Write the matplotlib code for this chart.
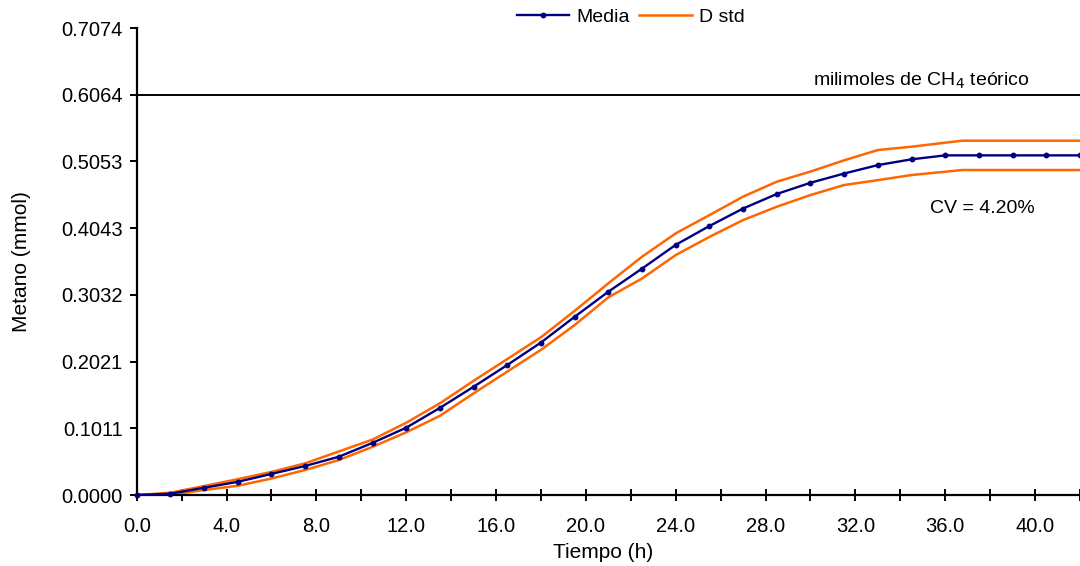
import matplotlib
matplotlib.use("Agg")
import matplotlib.pyplot as plt
from matplotlib.ticker import FixedLocator, MultipleLocator

plt.rcParams['font.family'] = ['Liberation Sans', 'DejaVu Sans']

# Data
tiempo = [0, 1.5, 3, 4.5, 6, 7.5, 9, 10.5, 12, 13.5, 15, 16.5, 18, 19.5, 21,
          22.5, 24, 25.5, 27, 28.5, 30, 31.5, 33, 34.5, 36, 37.5, 39, 40.5, 42]
media = [0.000, 0.002, 0.011, 0.020, 0.032, 0.044, 0.058, 0.079, 0.102, 0.132,
         0.164, 0.197, 0.231, 0.270, 0.308, 0.343, 0.379, 0.4075, 0.434, 0.456,
         0.473, 0.487, 0.4998, 0.5085, 0.5145, 0.5145, 0.5145, 0.5145, 0.5145]
tiempo_std = [0, 1.5, 3, 4.5, 6, 7.5, 9, 10.5, 12, 13.5, 15, 16.5, 18, 19.5, 21,
              22.5, 24, 25.5, 27, 28.5, 30, 31.5, 33, 34.5, 36, 36.75, 37.5, 39, 40.5, 42]
d_std_sup = [0.000, 0.0035, 0.0136, 0.024, 0.035, 0.048, 0.066, 0.084, 0.1095, 0.139,
             0.173, 0.206, 0.239, 0.279, 0.3207, 0.361, 0.3964, 0.424, 0.452, 0.4746,
             0.490, 0.507, 0.5226, 0.5276, 0.5337, 0.5367, 0.5367, 0.5367, 0.5367, 0.5367]
d_std_inf = [0.000, 0.000, 0.0076, 0.014, 0.025, 0.038, 0.053, 0.073, 0.095, 0.120,
             0.154, 0.187, 0.220, 0.2575, 0.2995, 0.328, 0.3635, 0.391, 0.4165, 0.4367,
             0.4544, 0.4696, 0.477, 0.4847, 0.4897, 0.4923, 0.4923, 0.4923, 0.4923, 0.4923]
teorico = 0.6064
y_ticks = [0.0000, 0.1011, 0.2021, 0.3032, 0.4043, 0.5053, 0.6064, 0.7074]
y_labels = ["0.0000", "0.1011", "0.2021", "0.3032", "0.4043", "0.5053", "0.6064", "0.7074"]
x_ticks = [0, 4, 8, 12, 16, 20, 24, 28, 32, 36, 40]
x_labels = ["0.0", "4.0", "8.0", "12.0", "16.0", "20.0", "24.0", "28.0", "32.0", "36.0", "40.0"]

fig = plt.figure(figsize=(10.8, 5.66), dpi=100)
ax = fig.add_axes([0.1266, 0.1254, 0.8734, 0.8251])

ax.axhline(teorico, color='black', lw=1.4, zorder=1)
l1, = ax.plot(tiempo, media, color='#000080', lw=1.7, marker='o', ms=3.2,
              label='Media', zorder=3, clip_on=False)
l2, = ax.plot(tiempo_std, d_std_sup, color='#FF6600', lw=1.8, label='D std', zorder=2)
ax.plot(tiempo_std, d_std_inf, color='#FF6600', lw=1.8, zorder=2)

ax.set_xlim(0, 42)
ax.set_ylim(0, 0.7074)
ax.yaxis.set_major_locator(FixedLocator(y_ticks))
ax.set_yticklabels(y_labels)
ax.xaxis.set_major_locator(FixedLocator(x_ticks))
ax.set_xticklabels(x_labels)
ax.xaxis.set_minor_locator(MultipleLocator(2))

for s in ['top', 'right']:
    ax.spines[s].set_visible(False)
for s in ['left', 'bottom']:
    ax.spines[s].set_linewidth(1.6)

ax.tick_params(axis='y', direction='out', length=5, width=1.4, labelsize=14.5, pad=5)
ax.tick_params(axis='x', which='both', direction='inout', length=8, width=1.4,
               labelsize=14.5, pad=12)

ax.set_xlabel('Tiempo (h)', fontsize=15)
ax.set_ylabel('Metano (mmol)', fontsize=15)
ax.xaxis.set_label_coords(0.494, -0.103)
ax.yaxis.set_label_coords(-0.112, 0.5)

ax.text(30.1, 0.6064 + 0.006, 'milimoles de CH$_4$ teórico', fontsize=14,
        ha='left', va='bottom')
ax.text(35.3, 0.4347, 'CV = 4.20%', fontsize=14, ha='left', va='center')

fig.legend(handles=[l1, l2], loc='center', bbox_to_anchor=(0.584, 0.970), ncol=2,
           frameon=False, fontsize=14, handlelength=2.7, handletextpad=0.35,
           columnspacing=0.5, borderpad=0)

fig.savefig('out.png', dpi=100)
